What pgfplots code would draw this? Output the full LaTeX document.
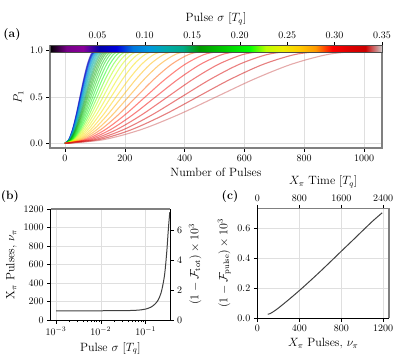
\documentclass[border=0pt]{standalone}
\usepackage{pgfplots}
\pgfplotsset{compat=1.18}

% matplotlib nipy_spectral, 21 equally spaced stops
\pgfplotsset{
  colormap={nipy}{rgb=(0,0,0) rgb=(.4667,0,.5333) rgb=(.5333,0,.6) rgb=(0,0,.6667)
    rgb=(0,0,.8667) rgb=(0,.4667,.8667) rgb=(0,.6,.8667) rgb=(0,.6667,.6667)
    rgb=(0,.6667,.5333) rgb=(0,.6,0) rgb=(0,.7333,0) rgb=(0,.8667,0) rgb=(0,1,0)
    rgb=(.7333,1,0) rgb=(.9333,.9333,0) rgb=(1,.8,0) rgb=(1,.6,0) rgb=(1,0,0)
    rgb=(.8667,0,0) rgb=(.8,0,0) rgb=(.8,.8,.8)},
  panel/.style={scale only axis, anchor=south west,
    tick align=outside, major tick length=3.5pt, minor tick length=2pt,
    tick style={black, line width=0.5pt},
    grid=major, major grid style={gray!25, line width=0.5pt},
    axis line style={draw=none}, label style={font=\large}, clip=false,
    /pgf/number format/1000 sep={}},
  rabi/.style={color of colormap=#1, draw opacity=0.5, line width=1.1pt, smooth},
}

\begin{document}
\begin{tikzpicture}
\useasboundingbox (0,0) rectangle (399pt,357pt);

% ---------------- (a) ----------------
\begin{axis}[panel, at={(50pt,209pt)}, width=332pt, height=102pt,
    xmin=-50, xmax=1060, ymin=-0.05, ymax=1.05,
    xtick={0,200,...,1000}, ytick={0,0.5,1}, yticklabels={0.0,0.5,1.0},
    tick pos=left, xlabel={Number of Pulses}, ylabel={$P_1$},
    colormap name=nipy, point meta min=0, point meta max=0.35,
    colorbar horizontal,
    colorbar style={at={(parent axis.north west)}, anchor=south west, yshift=2.7pt,
      scale only axis, width=332pt, height=6.5pt,
      xtick={0.05,0.1,0.15,0.2,0.25,0.3,0.35},
      xticklabels={0.05,0.10,0.15,0.20,0.25,0.30,0.35},
      xtick pos=right, xticklabel pos=right,
      tick align=outside, major tick length=3pt, tick style={black},
      xlabel={Pulse $\sigma$ $[T_q]$}, xlabel style={font=\large},
      axis line style={gray!60!black, line width=0.6pt}},
  ]
\addplot[rabi=146] coordinates {(0,0) (12.5,.0381) (25,.1464) (37.5,.3087) (50,.5) (62.5,.6913) (75,.8536) (87.5,.9619) (100,1)};
\addplot[rabi=171] coordinates {(0,0) (12.8,.0381) (25.5,.1464) (38.3,.3087) (51,.5) (63.8,.6913) (76.5,.8536) (89.3,.9619) (102,1)};
\addplot[rabi=196] coordinates {(0,0) (13,.0381) (26,.1464) (39,.3087) (52,.5) (65,.6913) (78,.8536) (91,.9619) (104,1)};
\addplot[rabi=221] coordinates {(0,0) (13.3,.0381) (26.5,.1464) (39.8,.3087) (53,.5) (66.3,.6913) (79.5,.8536) (92.8,.9619) (106,1)};
\addplot[rabi=246] coordinates {(0,0) (13.5,.0381) (27,.1464) (40.5,.3087) (54,.5) (67.5,.6913) (81,.8536) (94.5,.9619) (108,1)};
\addplot[rabi=271] coordinates {(0,0) (13.9,.0381) (27.8,.1464) (41.6,.3087) (55.5,.5) (69.4,.6913) (83.3,.8536) (97.1,.9619) (111,1)};
\addplot[rabi=296] coordinates {(0,0) (14.3,.0381) (28.5,.1464) (42.8,.3087) (57,.5) (71.3,.6913) (85.5,.8536) (99.8,.9619) (114,1)};
\addplot[rabi=321] coordinates {(0,0) (14.6,.0381) (29.3,.1464) (43.9,.3087) (58.5,.5) (73.1,.6913) (87.8,.8536) (102.4,.9619) (117,1)};
\addplot[rabi=346] coordinates {(0,0) (15.1,.0381) (30.3,.1464) (45.4,.3087) (60.5,.5) (75.6,.6913) (90.8,.8536) (105.9,.9619) (121,1)};
\addplot[rabi=371] coordinates {(0,0) (15.6,.0381) (31.3,.1464) (46.9,.3087) (62.5,.5) (78.1,.6913) (93.8,.8536) (109.4,.9619) (125,1)};
\addplot[rabi=396] coordinates {(0,0) (16.3,.0381) (32.5,.1464) (48.8,.3087) (65,.5) (81.3,.6913) (97.5,.8536) (113.8,.9619) (130,1)};
\addplot[rabi=421] coordinates {(0,0) (16.9,.0381) (33.8,.1464) (50.6,.3087) (67.5,.5) (84.4,.6913) (101.3,.8536) (118.1,.9619) (135,1)};
\addplot[rabi=446] coordinates {(0,0) (17.6,.0381) (35.3,.1464) (52.9,.3087) (70.5,.5) (88.1,.6913) (105.8,.8536) (123.4,.9619) (141,1)};
\addplot[rabi=471] coordinates {(0,0) (18.5,.0381) (37,.1464) (55.5,.3087) (74,.5) (92.5,.6913) (111,.8536) (129.5,.9619) (148,1)};
\addplot[rabi=496] coordinates {(0,0) (19.4,.0381) (38.8,.1464) (58.1,.3087) (77.5,.5) (96.9,.6913) (116.3,.8536) (135.6,.9619) (155,1)};
\addplot[rabi=521] coordinates {(0,0) (20.5,.0381) (41,.1464) (61.5,.3087) (82,.5) (102.5,.6913) (123,.8536) (143.5,.9619) (164,1)};
\addplot[rabi=546] coordinates {(0,0) (21.8,.0381) (43.5,.1464) (65.3,.3087) (87,.5) (108.8,.6913) (130.5,.8536) (152.3,.9619) (174,1)};
\addplot[rabi=571] coordinates {(0,0) (23.3,.0381) (46.5,.1464) (69.8,.3087) (93,.5) (116.3,.6913) (139.5,.8536) (162.8,.9619) (186,1)};
\addplot[rabi=596] coordinates {(0,0) (25,.0381) (50,.1464) (75,.3087) (100,.5) (125,.6913) (150,.8536) (175,.9619) (200,1)};
\addplot[rabi=621] coordinates {(0,0) (27,.0381) (54,.1464) (81,.3087) (108,.5) (135,.6913) (162,.8536) (189,.9619) (216,1)};
\addplot[rabi=646] coordinates {(0,0) (29.3,.0381) (58.5,.1464) (87.8,.3087) (117,.5) (146.3,.6913) (175.5,.8536) (204.8,.9619) (234,1)};
\addplot[rabi=671] coordinates {(0,0) (31.9,.0381) (63.8,.1464) (95.6,.3087) (127.5,.5) (159.4,.6913) (191.3,.8536) (223.1,.9619) (255,1)};
\addplot[rabi=696] coordinates {(0,0) (35,.0381) (70,.1464) (105,.3087) (140,.5) (175,.6913) (210,.8536) (245,.9619) (280,1)};
\addplot[rabi=721] coordinates {(0,0) (38.5,.0381) (77,.1464) (115.5,.3087) (154,.5) (192.5,.6913) (231,.8536) (269.5,.9619) (308,1)};
\addplot[rabi=746] coordinates {(0,0) (42.8,.0381) (85.5,.1464) (128.3,.3087) (171,.5) (213.8,.6913) (256.5,.8536) (299.3,.9619) (342,1)};
\addplot[rabi=771] coordinates {(0,0) (47.5,.0381) (95,.1464) (142.5,.3087) (190,.5) (237.5,.6913) (285,.8536) (332.5,.9619) (380,1)};
\addplot[rabi=796] coordinates {(0,0) (53,.0381) (106,.1464) (159,.3087) (212,.5) (265,.6913) (318,.8536) (371,.9619) (424,1)};
\addplot[rabi=821] coordinates {(0,0) (59.5,.0381) (119,.1464) (178.5,.3087) (238,.5) (297.5,.6913) (357,.8536) (416.5,.9619) (476,1)};
\addplot[rabi=846] coordinates {(0,0) (67,.0381) (134,.1464) (201,.3087) (268,.5) (335,.6913) (402,.8536) (469,.9619) (536,1)};
\addplot[rabi=871] coordinates {(0,0) (75.6,.0381) (151.3,.1464) (226.9,.3087) (302.5,.5) (378.1,.6913) (453.8,.8536) (529.4,.9619) (605,1)};
\addplot[rabi=896] coordinates {(0,0) (85.6,.0381) (171.3,.1464) (256.9,.3087) (342.5,.5) (428.1,.6913) (513.8,.8536) (599.4,.9619) (685,1)};
\addplot[rabi=921] coordinates {(0,0) (97.3,.0381) (194.5,.1464) (291.8,.3087) (389,.5) (486.3,.6913) (583.5,.8536) (680.8,.9619) (778,1)};
\addplot[rabi=946] coordinates {(0,0) (110.6,.0381) (221.3,.1464) (331.9,.3087) (442.5,.5) (553.1,.6913) (663.8,.8536) (774.4,.9619) (885,1)};
\addplot[rabi=971] coordinates {(0,0) (126.3,.0381) (252.5,.1464) (378.8,.3087) (505,.5) (631.3,.6913) (757.5,.8536) (883.8,.9619) (1010,1)};
\draw[gray, line width=1.3pt] (rel axis cs:0,0) rectangle (rel axis cs:1,1);
\end{axis}

% ---------------- (b) ----------------
\begin{axis}[panel, at={(50.7pt,37pt)}, width=119.3pt, height=111pt,
    xmode=log, xmin=7.6e-4, xmax=0.35, ymin=0, ymax=1200,
    xtick={1e-3,1e-2,1e-1}, ytick={0,200,...,1200}, tick pos=left,
    xlabel={Pulse $\sigma$ $[T_q]$}, ylabel={$\mathrm{X}_\pi$ Pulses, $\nu_\pi$}]
\addplot[black!75, line width=1pt, smooth] coordinates {
  (0.001,100) (0.002,100) (0.005,100) (0.01,100) (0.02,100.5) (0.04,102)
  (0.06,105) (0.08,110) (0.1,118) (0.13,138) (0.16,170) (0.19,215)
  (0.22,290) (0.245,390) (0.265,490) (0.28,600) (0.3,770) (0.317,940)
  (0.33,1050) (0.346,1165)};
\draw[gray, line width=1.3pt] (rel axis cs:0,1) -- (rel axis cs:1,1);
\draw[black, line width=0.6pt] (rel axis cs:0,1) -- (rel axis cs:0,0) -- (rel axis cs:1,0) -- (rel axis cs:1,1);
\end{axis}
\begin{axis}[panel, at={(50.7pt,37pt)}, width=119.3pt, height=111pt,
    xmode=log, xmin=7.6e-4, xmax=0.35, hide x axis, grid=none,
    ymin=0, ymax=7.4, ytick={0,2,4,6}, ytick pos=right, yticklabel pos=right,
    ylabel={$(1-\mathcal{F}_{\mathrm{tot}})\times 10^3$}]
\end{axis}

% ---------------- (c) ----------------
\begin{axis}[panel, at={(257.3pt,38.7pt)}, width=131.7pt, height=110pt,
    xmin=0, xmax=1255, ymin=0, ymax=0.735,
    xtick={0,400,800,1200}, ytick={0,0.2,0.4,0.6}, yticklabels={0.0,0.2,0.4,0.6},
    tick pos=left, xlabel={$X_\pi$ Pulses, $\nu_\pi$},
    ylabel={$(1-\mathcal{F}_{\mathrm{pulse}})\times 10^3$}]
\addplot[black!75, line width=1pt, smooth] coordinates {
  (100,0.027) (120,0.031) (150,0.043) (200,0.068) (300,0.125) (400,0.185)
  (500,0.248) (600,0.313) (700,0.38) (800,0.448) (900,0.515) (1000,0.583)
  (1100,0.65) (1190,0.705)};
\draw[gray, line width=1.3pt] (rel axis cs:0,1) -- (rel axis cs:1,1) -- (rel axis cs:1,0);
\draw[black, line width=0.6pt] (rel axis cs:0,1) -- (rel axis cs:0,0) -- (rel axis cs:1,0);
\end{axis}
\begin{axis}[panel, at={(257.3pt,38.7pt)}, width=131.7pt, height=110pt,
    xmin=0, xmax=2510, ymin=0, ymax=1, hide y axis, grid=none,
    xtick={0,800,1600,2400}, xtick pos=right, xticklabel pos=right,
    xlabel={$X_\pi$ Time $[T_q]$}]
\end{axis}

\node[font=\large\bfseries] at (12pt,322pt) {(a)};
\node[font=\large\bfseries] at (10pt,160pt) {(b)};
\node[font=\large\bfseries] at (230pt,160pt) {(c)};
\end{tikzpicture}
\end{document}
